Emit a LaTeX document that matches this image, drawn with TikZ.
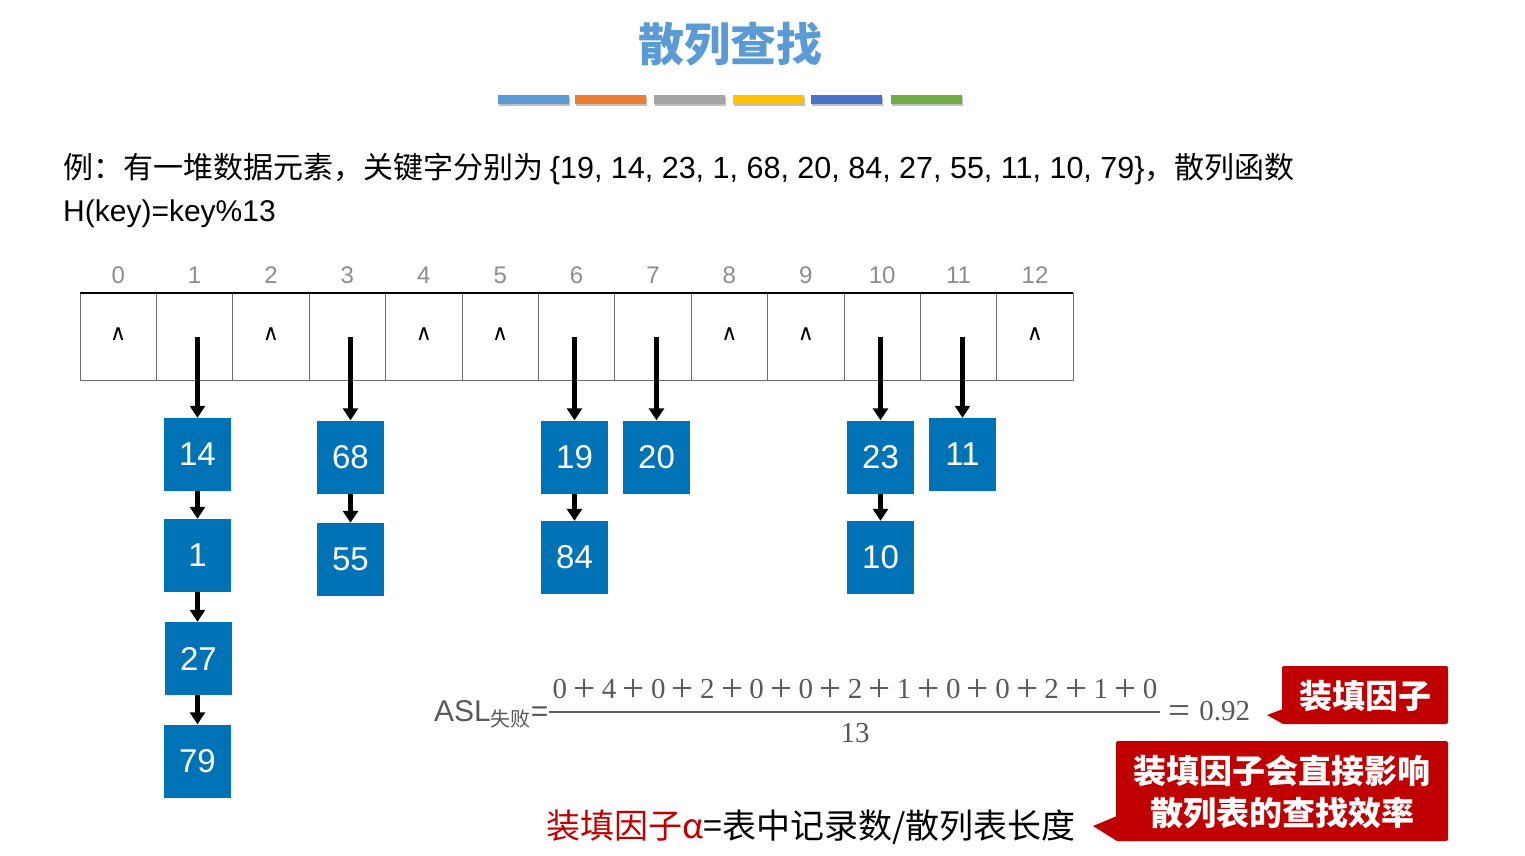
\documentclass[tikz,border=0pt]{standalone}
\usepackage{graphicx}
\usepackage{fontspec}
\setmainfont{Noto Sans CJK SC}
\newfontfamily\arial{Liberation Sans}
\newfontfamily\serifnum{Liberation Serif}
\newfontfamily\dejavu{DejaVu Sans}
\usetikzlibrary{arrows.meta}
\definecolor{titleblue}{HTML}{5B9BD5}
\definecolor{barorange}{HTML}{ED7D31}
\definecolor{bargray}{HTML}{A5A5A5}
\definecolor{bargold}{HTML}{FFC000}
\definecolor{bardblue}{HTML}{4472C4}
\definecolor{bargreen}{HTML}{70AD47}
\definecolor{boxblue}{HTML}{0073B7}
\definecolor{cellgray}{HTML}{6E6E6E}
\definecolor{idxgray}{HTML}{8C8C8C}
\definecolor{fgray}{HTML}{595959}
\definecolor{callred}{HTML}{C00000}
\newcommand\pl{\hspace{6.3pt}\raisebox{-3.2pt}{\scalebox{1.35}{+}}\hspace{6.3pt}}
\begin{document}
\begin{tikzpicture}[x=1pt,y=-1pt,
  cell/.style={draw=cellgray, line width=1pt, minimum width=76.4pt, minimum height=87pt, inner sep=0pt, outer sep=0pt},
  idx/.style={text=idxgray, font=\arial\fontsize{24}{24}\selectfont, inner sep=0pt},
  nil/.style={font=\dejavu\fontsize{22}{22}\selectfont, inner sep=0pt},
  kbox/.style={fill=boxblue, minimum width=67pt, minimum height=73pt, inner sep=0pt, text=white, font=\arial\fontsize{33}{33}\selectfont},
  arr/.style={line width=4.5pt, -{Triangle[width=15pt,length=12pt]}},
  bar/.style={minimum width=71pt, minimum height=9pt, inner sep=0pt},
  callout/.style={fill=callred, rounded corners=2pt},
  ctext/.style={text=white, font=\bfseries\fontsize{33}{42}\selectfont, align=center, inner sep=0pt},
  ftext/.style={inner sep=0pt, text=fgray, font=\serifnum\fontsize{29}{30}\selectfont}
]
\useasboundingbox (0,0) rectangle (1525,856);

% title
\node[anchor=base, text=titleblue, font=\bfseries\fontsize{46}{46}\selectfont, inner sep=0pt] (title) at (730,62) {散列查找};

% colour bars
\foreach \x/\c [count=\n] in {533/titleblue,610/barorange,689/bargray,768/bargold,846/bardblue,926/bargreen}{
  \fill[black!25] (\x-35.5+1.5,95+2) rectangle (\x+35.5+1.5,104+2.5);
  \node[bar, fill=\c] (bar\n) at (\x,99.5) {};
}

% statement
\node[anchor=base west, inner sep=0pt, font=\fontsize{30}{30}\selectfont] (line1) at (63,178)
  {例：有一堆数据元素，关键字分别为 {\arial\fontsize{30.5}{30}\selectfont\{19, 14, 23, 1, 68, 20, 84, 27, 55, 11, 10, 79\}}，散列函数};
\node[anchor=base west, inner sep=0pt, font=\arial\fontsize{30}{30}\selectfont] (line2) at (63,221)
  {H(key)=key\%13};

% hash table
\foreach \i in {0,...,12}{
  \node[cell] (c\i) at ({118.2+76.4*\i},336.5) {};
  \node[idx] (i\i) at ({118.2+76.4*\i},275) {\i};
}
\draw[black, line width=1.2pt] (c0.north west) -- (c12.north east);
\foreach \i in {0,2,4,5,8,9,12}{
  \node[nil] (n\i) at ({118.2+76.4*\i},334) {∧};
}

% chain nodes
\node[kbox] (b14) at (197.5,454.5) {14};
\node[kbox] (b1)  at (197.5,555.5) {1};
\node[kbox] (b27) at (198.5,658.5) {27};
\node[kbox] (b79) at (197.5,761)   {79};
\node[kbox] (b68) at (350.5,457)   {68};
\node[kbox] (b55) at (350.5,559.5) {55};
\node[kbox] (b19) at (574.5,457)   {19};
\node[kbox] (b84) at (574.5,557.5) {84};
\node[kbox] (b20) at (656.5,457)   {20};
\node[kbox] (b23) at (880.5,457)   {23};
\node[kbox] (b10) at (880.5,557.5) {10};
\node[kbox] (b11) at (962.5,454.5) {11};

% pointers from table
\draw[arr] (c1.center -| b14.north) -- (b14.north);
\draw[arr] (c3.center -| b68.north) -- (b68.north);
\draw[arr] (c6.center -| b19.north) -- (b19.north);
\draw[arr] (c7.center -| b20.north) -- (b20.north);
\draw[arr] (c10.center -| b23.north) -- (b23.north);
\draw[arr] (c11.center -| b11.north) -- (b11.north);
% chain links
\draw[arr] (b14.south) -- (b1.north);
\draw[arr] (b1.south) -- (b27.north -| b1.south);
\draw[arr] (b27.south -| b79.north) -- (b79.north);
\draw[arr] (b68.south) -- (b55.north);
\draw[arr] (b19.south) -- (b84.north);
\draw[arr] (b23.south) -- (b10.north);

% ASL formula
\node[anchor=base west, inner sep=0pt, text=fgray, font=\arial\fontsize{30}{30}\selectfont] (asl) at (434,721)
  {ASL\raisebox{-5pt}{\fontspec{Noto Sans CJK SC}\fontsize{20}{20}\selectfont 失败}=};
\draw[fgray, line width=2.5pt] (asl.east |- 0,712) coordinate (fl) -- (1160,712) coordinate (fr);
\node[ftext, anchor=base] (num) at (855,698)
  {0\pl4\pl0\pl2\pl0\pl0\pl2\pl1\pl0\pl0\pl2\pl1\pl0};
\node[ftext, anchor=base] (den) at (855,742) {13};
\node[ftext, anchor=base west] (res) at (1168,720) {\raisebox{-3pt}{\scalebox{1.35}{=}}\hspace{9pt}0.92};

% callout 1
\fill[callout] (1282,666) -- (1448,666) -- (1448,724) -- (1282,724) -- cycle;
\fill[callred] (1283,709) -- (1267,715) -- (1283,724) -- cycle;
\node[ctext] (k1) at (1365,696) {装填因子};

% callout 2
\fill[callout] (1116,741) -- (1448,741) -- (1448,841) -- (1116,841) -- cycle;
\fill[callred] (1117,816) -- (1093,826) -- (1117,841) -- cycle;
\node[ctext] (k2) at (1282,792) {装填因子会直接影响\\散列表的查找效率};

% load factor definition
\node[anchor=base west, inner sep=0pt, font=\fontsize{34}{34}\selectfont] (alpha) at (546,838)
  {\textcolor{callred}{装填因子α}=表中记录数/散列表长度};
\end{tikzpicture}
\end{document}
